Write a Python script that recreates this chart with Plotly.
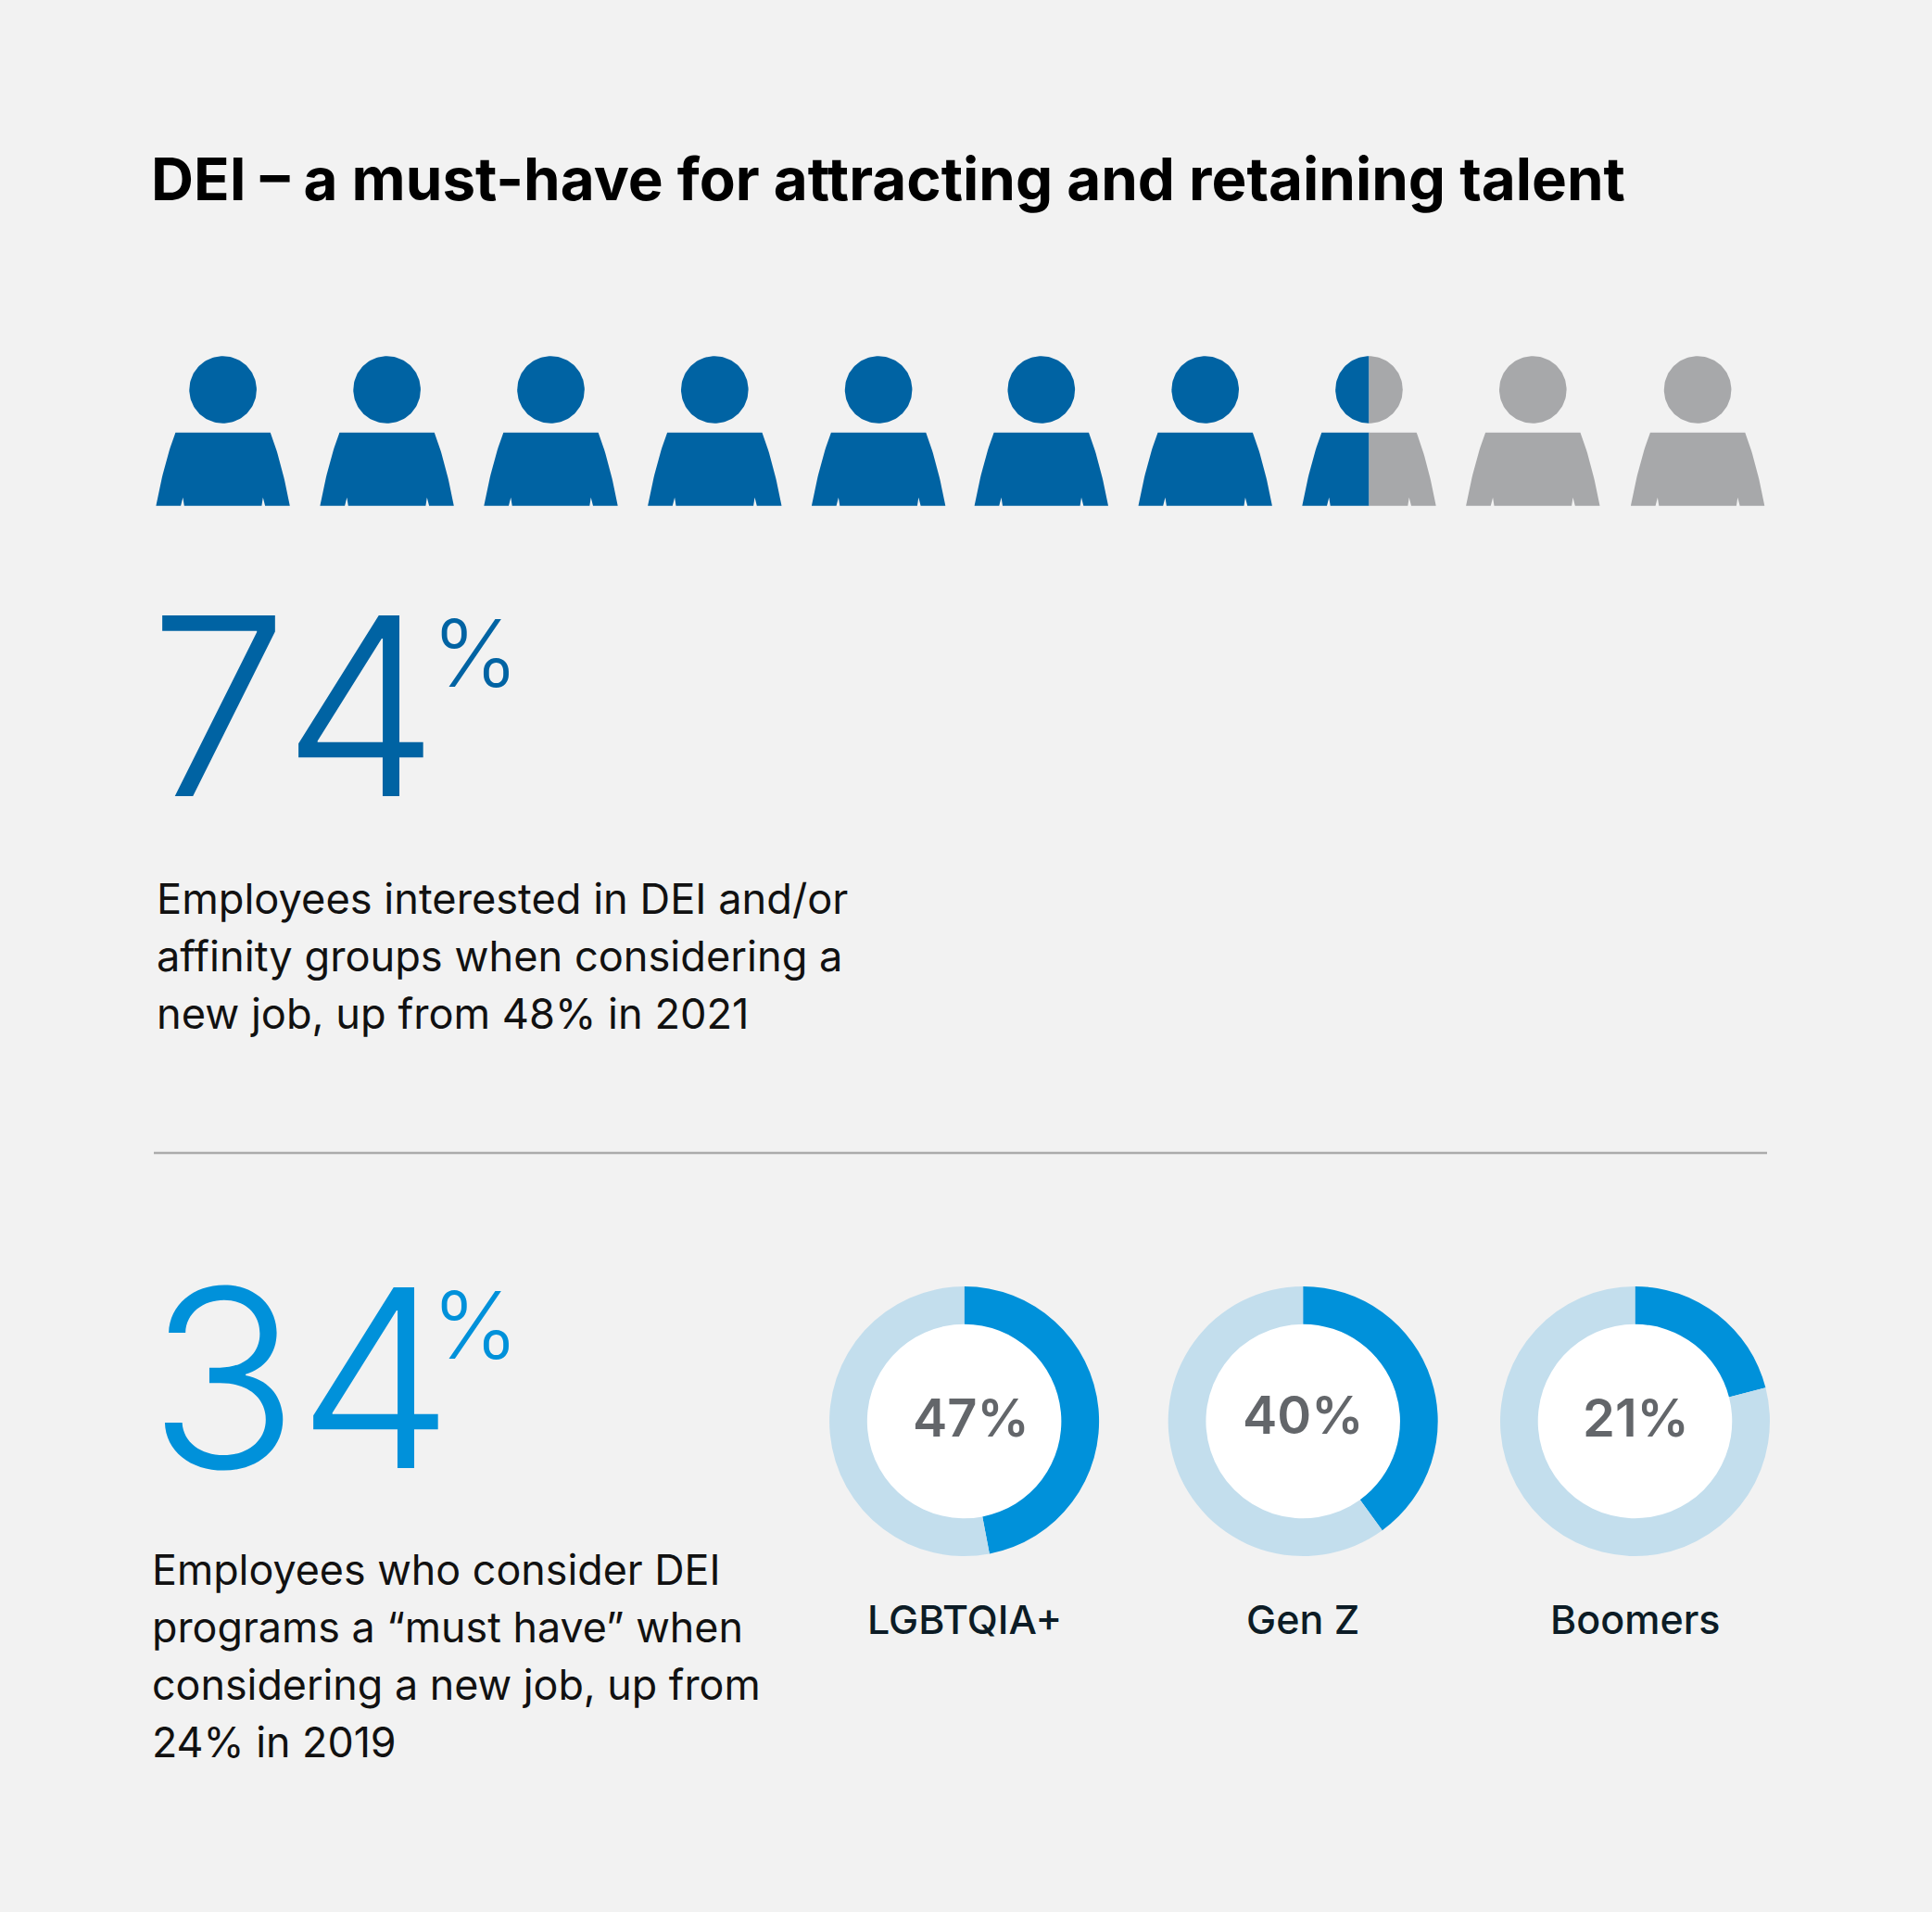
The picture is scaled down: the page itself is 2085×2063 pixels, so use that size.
import math
import plotly.graph_objects as go

W, H = 2085, 2063

# ---- data ----
title_text = "DEI – a must-have for attracting and retaining talent"
people_filled = [1, 1, 1, 1, 1, 1, 1, 0.5, 0, 0]
stat_one = "74"
stat_two = "34"
stat_one_lines = ["Employees interested in DEI and/or",
                  "affinity groups when considering a",
                  "new job, up from 48% in 2021"]
stat_two_lines = ["Employees who consider DEI",
                  "programs a “must have” when",
                  "considering a new job, up from",
                  "24% in 2019"]
donut_names = ["LGBTQIA+", "Gen Z", "Boomers"]
donut_values = [47, 40, 21]

# ---- style / layout ----
BG = "#F2F2F2"
DARK = "#0063A3"
GREY = "#A7A8AA"
BRIGHT = "#0091DA"
PALE = "#C3DEED"
INK = "#0C1C26"
MID = "#63666A"
FONT = "Inter"

person_centres = [240.6, 417.6, 594.5, 771.3, 948.1, 1123.8, 1300.7, 1477.5, 1654.3, 1832.1]
donut_centres = [1040.6, 1406.2, 1764.5]
donut_label_dx = [7, 0, 1]
donut_label_dy = [-3.5, -6.5, -3.5]
stat_one_digit_x = [236, 389.6]
stat_two_digit_x = [241.4, 405.6]


def body_outline():
    pts = []
    top, bot = 466.7, 545.7
    p0, c, p1 = (-72.2, bot), (-63.0, 497.0), (-51.2, top)
    for i in range(25):
        t = i / 24
        pts.append(((1-t)**2*p0[0]+2*t*(1-t)*c[0]+t*t*p1[0],
                    (1-t)**2*p0[1]+2*t*(1-t)*c[1]+t*t*p1[1]))
    pts += [(-x, y) for x, y in reversed(pts)]
    pts += [(45.5, bot), (43.2, 536.7), (41.8, bot),
            (-41.8, bot), (-43.2, 536.7), (-45.5, bot)]
    return pts


def head_outline():
    return [(36.3*math.cos(a*math.pi/60), 420.5+36.3*math.sin(a*math.pi/60)) for a in range(120)]


def clip(pts, limit, keep_left):
    """Sutherland-Hodgman against the vertical x=limit"""
    out = []
    n = len(pts)
    inside = (lambda p: p[0] <= limit) if keep_left else (lambda p: p[0] >= limit)
    for i in range(n):
        a, b = pts[i], pts[(i+1) % n]
        if inside(a):
            out.append(a)
        if inside(a) != inside(b):
            t = (limit-a[0])/(b[0]-a[0])
            out.append((limit, a[1]+t*(b[1]-a[1])))
    return out


fig = go.Figure()


def add_poly(pts, cx, color):
    if not pts:
        return
    xs = [p[0]+cx for p in pts]+[pts[0][0]+cx]
    ys = [p[1] for p in pts]+[pts[0][1]]
    fig.add_trace(go.Scatter(x=xs, y=ys, mode="lines", fill="toself", fillcolor=color,
                             line=dict(width=0, color=color), hoverinfo="skip", showlegend=False))


for cx, share in zip(person_centres, people_filled):
    for outline in (head_outline(), body_outline()):
        if share >= 1:
            add_poly(outline, cx, DARK)
        elif share <= 0:
            add_poly(outline, cx, GREY)
        else:
            half_w = 72.2 if outline[0][1] > 460 else 36.3
            limit = -half_w + 2*half_w*share
            add_poly(clip(outline, limit, True), cx, DARK)
            add_poly(clip(outline, limit, False), cx, GREY)

R, HOLE = 145.5, 0.72
CY = 1533.5
shapes = [dict(type="line", xref="x", yref="y", x0=166, x1=1907, y0=1244, y1=1244,
               line=dict(color="#ABABAB", width=2.5))]
annos = []


def text(x, y, s, size, color, weight=400, anchor="left"):
    annos.append(dict(x=x, y=y, xref="x", yref="y", text=s, showarrow=False,
                      xanchor=anchor, yanchor="middle", align=anchor,
                      font=dict(family=FONT, size=size, color=color, weight=weight)))


for cx, name, val, dx, dy in zip(donut_centres, donut_names, donut_values, donut_label_dx, donut_label_dy):
    fig.add_trace(go.Pie(values=[val, 100-val], sort=False, direction="clockwise", rotation=0,
                         hole=HOLE, textinfo="none", hoverinfo="skip", showlegend=False,
                         marker=dict(colors=[BRIGHT, PALE], line=dict(width=0)),
                         domain=dict(x=[(cx-R)/W, (cx+R)/W], y=[1-(CY+R)/H, 1-(CY-R)/H])))
    r_in = R*HOLE+1
    shapes.append(dict(type="circle", xref="x", yref="y", x0=cx-r_in, x1=cx+r_in, y0=CY-r_in, y1=CY+r_in,
                       fillcolor="white", line=dict(width=0), layer="below"))
    text(cx+dx, CY+dy, f"{val}%", 56, MID, 600, "center")
    text(cx, 1747, name, 43, INK, 500, "center")

text(161, 192, title_text, 63.7, "#000000", 700)
for d, x in zip(stat_one, stat_one_digit_x):
    text(x, 761.5, d, 268, DARK, 300, "center")
text(513, 704, "%", 100, DARK, 300, "center")
for d, x in zip(stat_two, stat_two_digit_x):
    text(x, 1486.5, d, 268, BRIGHT, 300, "center")
text(513, 1429, "%", 100, BRIGHT, 300, "center")
for i, s in enumerate(stat_one_lines):
    text(166.5, 969+62*i, s, 45.2, "#111111", 400)
for i, s in enumerate(stat_two_lines):
    text(161.5, 1693.5+62*i, s, 44.8, "#111111", 400)

fig.update_layout(width=W, height=H, margin=dict(l=0, r=0, t=0, b=0), paper_bgcolor=BG, plot_bgcolor=BG,
                  shapes=shapes, annotations=annos, showlegend=False,
                  xaxis=dict(range=[0, W], visible=False, fixedrange=True),
                  yaxis=dict(range=[H, 0], visible=False, fixedrange=True))
fig.write_html("out.html", post_script="document.body.style.margin='0';document.body.style.background='#F2F2F2';",
               config=dict(displayModeBar=False))
